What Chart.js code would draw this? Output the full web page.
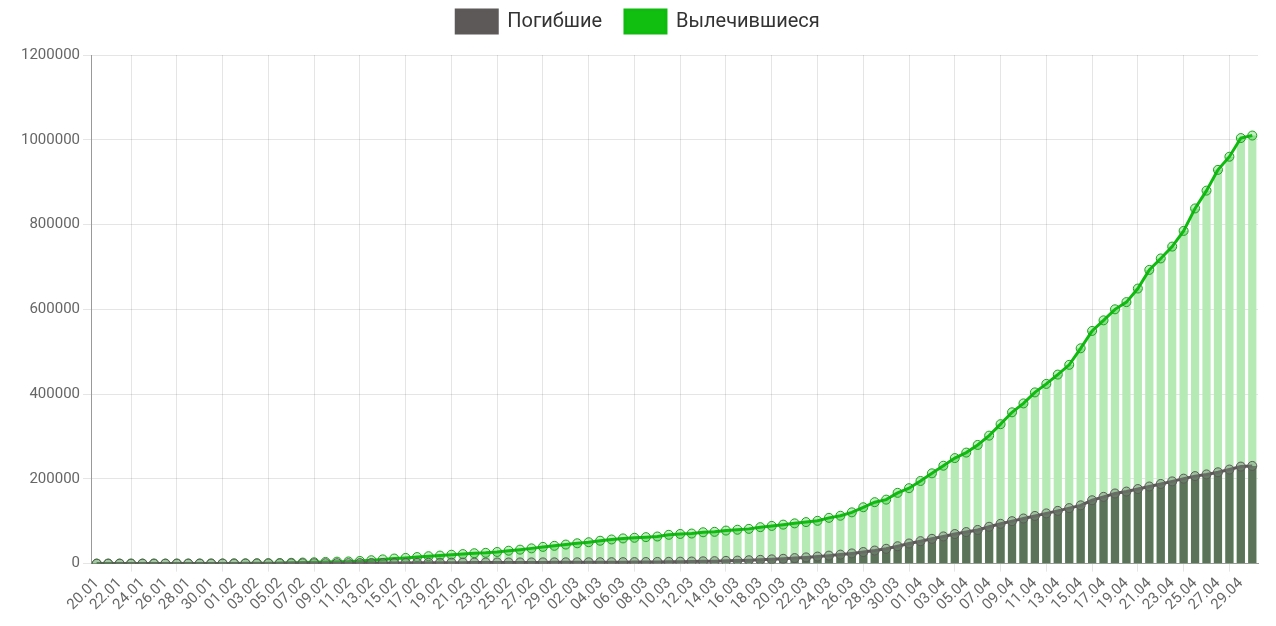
<!DOCTYPE html>
<html>
<head>
<meta charset="utf-8">
<script src="https://cdn.jsdelivr.net/npm/chart.js@4/dist/chart.umd.min.js"></script>
<style>
  html, body { margin: 0; padding: 0; background: #fff; }
  #wrap { width: 1276px; height: 626px; }
</style>
</head>
<body>
<div id="wrap"><canvas id="covidChart"></canvas></div>
<script>
const dates = [
  "20.01", "21.01", "22.01", "23.01", "24.01", "25.01", "26.01", "27.01", "28.01", "29.01", "30.01", "31.01",
  "01.02", "02.02", "03.02", "04.02", "05.02", "06.02", "07.02", "08.02", "09.02", "10.02",
  "11.02", "12.02", "13.02", "14.02", "15.02", "16.02", "17.02", "18.02", "19.02", "20.02",
  "21.02", "22.02", "23.02", "24.02", "25.02", "26.02", "27.02", "28.02", "29.02",
  "01.03", "02.03", "03.03", "04.03", "05.03", "06.03", "07.03", "08.03", "09.03", "10.03",
  "11.03", "12.03", "13.03", "14.03", "15.03", "16.03", "17.03", "18.03", "19.03", "20.03",
  "21.03", "22.03", "23.03", "24.03", "25.03", "26.03", "27.03", "28.03", "29.03", "30.03", "31.03",
  "01.04", "02.04", "03.04", "04.04", "05.04", "06.04", "07.04", "08.04", "09.04", "10.04",
  "11.04", "12.04", "13.04", "14.04", "15.04", "16.04", "17.04", "18.04", "19.04", "20.04",
  "21.04", "22.04", "23.04", "24.04", "25.04", "26.04", "27.04", "28.04", "29.04", "30.04"
];

const deaths = [
  6, 9, 17, 25, 41, 56, 80, 106, 132, 170, 213, 259,
  304, 362, 426, 492, 565, 638, 724, 813, 910, 1018, 1115, 1261, 1383, 1526, 1669, 1775, 1873, 2009,
  2126, 2247, 2360, 2460, 2618, 2699, 2763, 2800, 2858, 2923, 2977,
  3050, 3117, 3202, 3285, 3387, 3494, 3599, 3827, 4025, 4296, 4628, 4981, 5429, 5833, 6525, 7173,
  7987, 8951, 10046, 11399, 13057, 14721, 16660, 18897, 21282, 24073, 27370, 30879, 35000, 41000, 47500,
  53000, 58500, 64200, 69800, 74500, 79500, 87000, 94000, 100200, 106500, 112500, 118500, 124500, 131000,
  137500, 149500, 157500, 165500, 170000, 176000, 182000, 188000, 194000, 200500, 206500, 210500,
  215500, 222000, 229000, 230500
];

const recovered = [
  20, 28, 30, 36, 39, 52, 61, 107, 126, 143, 222, 284,
  472, 623, 852, 1124, 1487, 2011, 2616, 3244, 3946, 4683, 5150, 6295, 8058, 10000, 12000, 13500,
  15500, 17500, 19000, 21000, 22500, 24500, 25500, 27500, 30500, 33000, 36000, 39500, 42000,
  45000, 48000, 50500, 54000, 57000, 59500, 61000, 62500, 64000, 68000, 70000, 71000, 74000, 75000,
  78000, 80000, 82000, 86000, 89000, 92000, 95000, 98000, 101000, 108000, 113000, 121000, 133000,
  145000, 151000, 167000, 178000,
  195000, 213000, 231000, 249000, 262000, 280000, 302000, 329000, 357000, 378000, 404000, 424000,
  446000, 469000, 508000, 549000, 574000, 600000, 617000, 649000, 693000, 720000, 748000, 785000,
  838000, 880000, 929000, 960000, 1004000, 1010000
];

const ctx = document.getElementById("covidChart").getContext("2d");
const gridColor = "rgba(0,0,0,0.1)";

// extra room under the legend
const legendGap = {
  id: "legendGap",
  beforeInit(chart) {
    const fit = chart.legend.fit;
    chart.legend.fit = function () {
      fit.call(this);
      this.height += 12;
    };
  },
};

new Chart(ctx, {
  type: "bar",
  data: {
    labels: dates,
    datasets: [
      {
        type: "line",
        label: "Погибшие",
        data: deaths,
        order: 0,
        borderColor: "#5d5959",
        backgroundColor: "#5d5959",
        borderWidth: 3,
        tension: 0,
        pointRadius: 4.5,
        pointBorderWidth: 1,
        pointBorderColor: "#5d5959",
        pointBackgroundColor: "rgba(120,140,120,0.4)",
      },
      {
        type: "line",
        label: "Вылечившиеся",
        data: recovered,
        order: 1,
        borderColor: "#10bb10",
        backgroundColor: "#10bf10",
        borderWidth: 3,
        tension: 0,
        pointRadius: 4.5,
        pointBorderWidth: 1,
        pointBorderColor: "#18a518",
        pointBackgroundColor: "rgba(16,187,16,0.25)",
      },
      {
        label: "deaths-bar",
        data: deaths,
        order: 2,
        backgroundColor: "#5b7459",
      },
      {
        label: "recovered-bar",
        data: recovered,
        order: 3,
        backgroundColor: "#b5eab5",
      },
    ],
  },
  options: {
    responsive: true,
    maintainAspectRatio: false,
    animation: false,
    layout: { padding: { left: 18, right: 18, top: 2, bottom: 9 } },
    plugins: {
      legend: {
        position: "top",
        labels: {
          // only the two line series go in the legend
          generateLabels: (chart) =>
            Chart.defaults.plugins.legend.labels
              .generateLabels(chart)
              .filter((item) => item.datasetIndex < 2)
              .map((item, i) => {
                if (i === 0) item.text += "   ";
                return item;
              }),
          boxWidth: 41,
          boxHeight: 23,
          padding: 8,
          color: "#333",
          font: { family: "Roboto", size: 20 },
        },
      },
      tooltip: { enabled: false },
    },
    scales: {
      x: {
        stacked: true,
        grid: {
          offset: true,
          color: (c) => (c.index % 2 === 0 ? gridColor : "rgba(0,0,0,0)"),
        },
        border: { color: "#999" },
        ticks: {
          autoSkip: false,
          minRotation: 45,
          maxRotation: 45,
          color: "#666",
          font: { family: "Roboto", size: 15 },
          callback: (val, i) => (i % 2 === 0 ? dates[i] : null),
        },
      },
      y: {
        stacked: false,
        min: 0,
        max: 1200000,
        grid: { color: gridColor },
        border: { color: "#999" },
        ticks: {
          stepSize: 200000,
          color: "#666",
          font: { family: "Roboto", size: 15 },
          callback: (v) => String(v),
        },
      },
    },
  },
  plugins: [legendGap],
});
</script>
</body>
</html>
